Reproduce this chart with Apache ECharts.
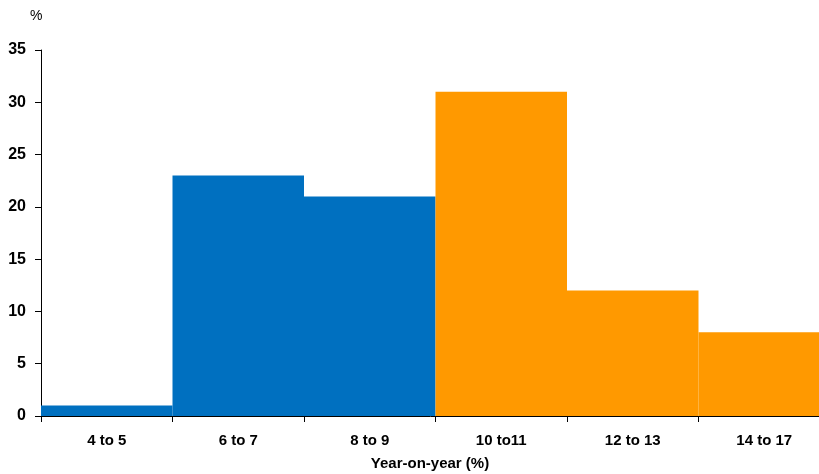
<!DOCTYPE html>
<html>
<head>
  <meta charset="UTF-8">
  <title>Year-on-year distribution</title>
  <style>
    html, body { margin: 0; padding: 0; background: #fff; }
    #chart { width: 819px; height: 474px; }
  </style>
</head>
<body>
  <div id="chart"></div>
  <script src="https://cdn.jsdelivr.net/npm/echarts@6/dist/echarts.min.js"></script>
  <script>
    const categories = ['4 to 5', '6 to 7', '8 to 9', '10 to11', '12 to 13', '14 to 17'];
    const shares = [1, 23, 21, 31, 12, 8];
    // first three buckets blue, the rest orange
    const lowBuckets = 3;

    const chart = echarts.init(document.getElementById('chart'));
    const font = '"Liberation Sans", Arial, sans-serif';

    chart.setOption({
      backgroundColor: '#fff',
      animation: false,
      title: {
        text: '%',
        left: 25,
        top: 4,
        textStyle: { fontFamily: font, fontSize: 14, fontWeight: 'normal', color: '#000' }
      },
      grid: { left: 41, right: -11, top: 50, bottom: 58, containLabel: false, outerBoundsMode: 'none' },
      xAxis: {
        type: 'category',
        data: categories,
        name: 'Year-on-year (%)',
        nameLocation: 'middle',
        nameGap: 40,
        nameTextStyle: { fontFamily: font, fontSize: 15, fontWeight: 'bold', color: '#000', padding: [0, 11, 0, 0] },
        axisLine: { lineStyle: { color: '#000', width: 1 } },
        axisTick: { show: true, length: 6, lineStyle: { color: '#000' } },
        axisLabel: { fontFamily: font, fontSize: 15, fontWeight: 'bold', color: '#000', margin: 17 }
      },
      yAxis: {
        type: 'value',
        min: 0,
        max: 35,
        interval: 5,
        splitLine: { show: false },
        axisLine: { show: true, lineStyle: { color: '#000', width: 1 } },
        axisTick: { show: true, length: 6, lineStyle: { color: '#000' } },
        axisLabel: { fontFamily: font, fontSize: 16, fontWeight: 'bold', color: '#000', margin: 15 }
      },
      series: [{
        type: 'bar',
        data: shares,
        barCategoryGap: 0,
        itemStyle: {
          color: function (p) {
            return p.dataIndex < lowBuckets ? '#0070C0' : '#FF9900';
          }
        }
      }]
    });
  </script>
</body>
</html>
